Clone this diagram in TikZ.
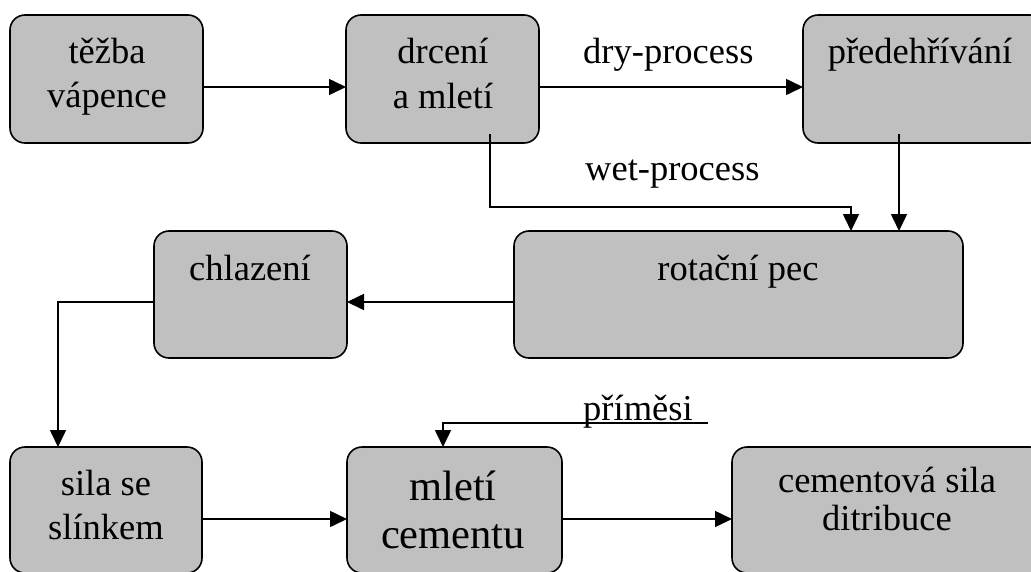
\documentclass[tikz,border=0pt]{standalone}
\usepackage{fontspec}
\setmainfont{Liberation Serif}
\usetikzlibrary{arrows.meta,calc}
\definecolor{boxgray}{HTML}{C0C0C0}
\begin{document}
\begin{tikzpicture}[x=1pt,y=-1pt,
  box/.style={draw=black,fill=boxgray,line width=1.6pt,rounded corners=15pt,
    rectangle,inner sep=0pt,outer sep=0pt},
  txt/.style={anchor=base,inner sep=0pt,font=\fontsize{36.5}{44}\selectfont},
  bigtxt/.style={anchor=base,inner sep=0pt,font=\fontsize{42.5}{50}\selectfont},
  lbl/.style={anchor=base west,inner sep=0pt,font=\fontsize{36.5}{44}\selectfont},
  arr/.style={draw=black,line width=1.6pt,-{Triangle[length=17pt,width=16pt]}},
  conn/.style={draw=black,line width=1.6pt}]
\useasboundingbox (0,0) rectangle (1031,571);
\clip (0,0) rectangle (1031,571);
% boxes
\node[box,minimum width=193pt,minimum height=128pt] (A) at (106.5,79) {};
\node[box,minimum width=193pt,minimum height=128pt] (B) at (442.5,79) {};
\node[box,minimum width=242pt,minimum height=128pt] (C) at (924,79) {};
\node[box,minimum width=449pt,minimum height=127pt] (D) at (738.5,294.5) {};
\node[box,minimum width=193pt,minimum height=127pt] (E) at (250.5,294.5) {};
\node[box,minimum width=192pt,minimum height=126pt] (F) at (106,510) {};
\node[box,minimum width=215pt,minimum height=126pt] (G) at (454.5,510) {};
\node[box,minimum width=313pt,minimum height=126pt] (H) at (888.5,510) {};
% box texts
\node[txt] (a1) at (107,63) {těžba};
\node[txt] (a2) at (107,107) {vápence};
\node[txt] (b1) at (443,63) {drcení};
\node[txt] (b2) at (443,108) {a mletí};
\node[txt] (c1) at (920,63) {předehřívání};
\node[txt] (d1) at (738,280) {rotační pec};
\node[txt] (e1) at (250,280) {chlazení};
\node[txt] (f1) at (106,495) {sila se};
\node[txt] (f2) at (106,539) {slínkem};
\node[bigtxt] (g1) at (453,500) {mletí};
\node[bigtxt] (g2) at (453,548) {cementu};
\node[txt] (h1) at (887,492) {cementová sila};
\node[txt] (h2) at (887,530) {ditribuce};
% labels
\node[lbl] (dry) at (583,63) {dry-process};
\node[lbl] (wet) at (585,180) {wet-process};
\node[lbl] (pri) at (583,420) {příměsi};
% connectors
\draw[arr] ([yshift=-8pt]A.east) -- ([yshift=-8pt]B.west);
\draw[arr] ([yshift=-8pt]B.east) -- ([yshift=-8pt]C.west);
\coordinate (wstart) at ([shift={(47.5pt,9pt)}]B.south);
\coordinate (wturn) at (851,207);
\draw[arr] (wstart) |- (wturn) -- (wturn |- D.north);
\coordinate (pstart) at ([shift={(-25pt,9pt)}]C.south);
\draw[arr] (pstart) -- (pstart |- D.north);
\draw[arr] ([yshift=-7.5pt]D.west) -- ([yshift=-7.5pt]E.east);
\draw[arr] ([yshift=-7.5pt]E.west) -| ([xshift=-48pt]F.north);
\draw[arr] ([yshift=-9pt]F.east) -- ([yshift=-9pt]G.west);
\draw[arr] ([yshift=-9pt]G.east) -- ([yshift=-9pt]H.west);
\coordinate (mstart) at (708,423);
\draw[arr] (mstart) -| ([xshift=-11.5pt]G.north);
\end{tikzpicture}
\end{document}
